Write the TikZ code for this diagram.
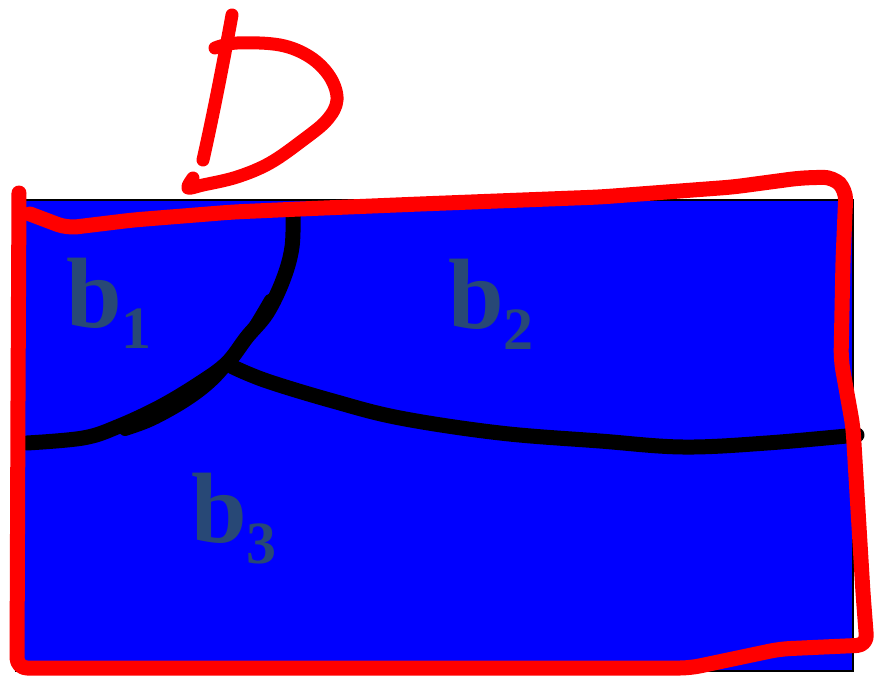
\documentclass[tikz,border=0pt]{standalone}
\usepackage{fontspec}
\setmainfont{Liberation Serif}
\definecolor{lbl}{RGB}{40,72,118}
\definecolor{pen}{RGB}{255,0,0}
\definecolor{fillblue}{RGB}{0,0,255}
\begin{document}
\begin{tikzpicture}[x=1pt,y=-1pt,
  redpen/.style={draw=pen,line width=15pt,line cap=round,line join=round},
  blackpen/.style={draw=black,line width=15pt,line cap=round,line join=round},
  lab/.style={text=lbl,font=\fontsize{100}{100}\selectfont\bfseries,inner sep=0pt,anchor=base west}]
\useasboundingbox (0,0) rectangle (874,679);
% blue region
\path[fill=fillblue,draw=black,line width=2.5pt] (16,200) rectangle (853,671);
% labels
\node[lab] (b1) at (66,327) {b\raisebox{-21pt}{\fontsize{60}{60}\selectfont 1}};
\node[lab] (b2) at (448,328) {b\raisebox{-21pt}{\fontsize{60}{60}\selectfont 2}};
\node[lab] (b3) at (191,542) {b\raisebox{-21pt}{\fontsize{60}{60}\selectfont 3}};
% black boundaries
\draw[blackpen] plot[smooth,tension=0.6] coordinates {(293,210) (292,247) (283,280) (267,313) (247,337) (227,363) (200,383) (160,407) (117,427) (83,438) (27,443)};
\draw[blackpen,line width=12pt] plot[smooth,tension=0.6] coordinates {(270,300) (252,330) (233,357) (212,381) (186,401) (152,420) (125,430)};
\draw[blackpen] plot[smooth,tension=0.6] coordinates {(233,367) (267,381) (333,401) (400,418) (500,433) (600,441) (683,447) (767,443) (857,435)};
% red outline
\draw[redpen,rounded corners=10pt] (19,193) -- (18,400) -- (17,668) -- (690,668) -- (780,649) -- (867,645) -- (863,593) -- (853,427) -- (841,360) -- (843,260) -- (846,190) -- (833,177) -- (800,178) -- (733,187) -- (600,197) -- (420,204) -- (300,209) -- (233,212) -- (133,220) -- (67,228) -- (30,214);
% D
\draw[redpen,line width=13pt] (232,15) .. controls (222,70) and (212,120) .. (203,160);
\draw[redpen,line width=13pt] plot[smooth,tension=0.6] coordinates {(215,48) (237,43) (280,45) (310,57) (330,77) (337,100) (327,120) (303,140) (270,163) (237,177) (203,185) (188,188) (193,178)};
\end{tikzpicture}
\end{document}
